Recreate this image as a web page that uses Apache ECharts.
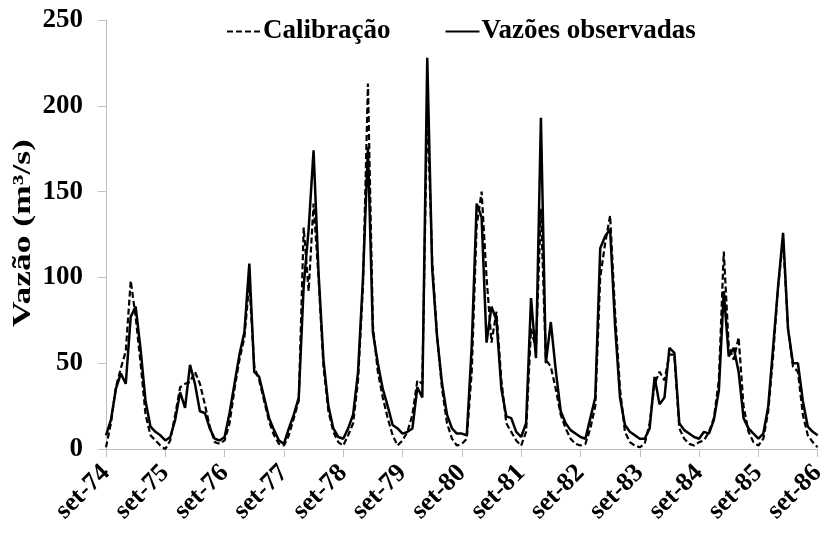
<!DOCTYPE html>
<html>
<head>
<meta charset="utf-8">
<script src="https://cdn.jsdelivr.net/npm/echarts@6/dist/echarts.min.js"></script>
<style>
html,body{margin:0;padding:0;background:#fff;}
#chart{width:829px;height:533px;}
</style>
</head>
<body>
<div id="chart"></div>
<script>
var monthNames = ['set','out','nov','dez','jan','fev','mar','abr','mai','jun','jul','ago'];
var startYear = 74;
var nYears = 12;
var yTicks = [0, 50, 100, 150, 200, 250];
var yAxisTitle = 'Vazão (m³/s)';

var observadas = [
  8,17,35,44,38,77,83,58,28,13,10,8,
  5,7,17,33,24,49,38,22,21,12,6,5,
  7,21,38,55,68,108,45,42,30,18,11,5,
  3,12,20,30,95,128,174,103,52,25,12,7,
  6,12,20,45,100,176,68,50,35,25,14,12,
  9,10,12,36,30,228,105,65,38,20,12,9,
  9,8,60,143,135,62,83,75,35,19,18,10,
  7,15,88,53,193,50,74,46,22,15,11,9,
  7,6,18,30,117,124,128,72,30,14,10,8,
  6,6,12,42,26,30,59,56,15,11,9,7,
  6,10,9,17,34,92,54,59,45,18,12,9,
  6,9,25,60,95,126,70,50,50,28,13,10,
  8
];
var calibracao = [
  1,15,36,47,57,98,77,50,20,8,5,2,
  0,5,20,36,38,39,45,38,26,13,4,3,
  5,15,35,52,65,97,48,40,28,16,8,3,
  2,8,18,28,129,92,143,100,48,22,10,4,
  2,8,15,40,95,213,72,45,30,18,8,2,
  5,10,20,40,38,200,110,65,35,15,6,2,
  3,6,45,130,150,100,62,80,40,15,10,5,
  2,10,70,58,140,52,48,35,20,12,6,3,
  2,3,12,25,100,120,136,80,35,10,4,2,
  1,3,15,38,45,40,55,55,12,6,3,2,
  4,5,10,18,40,115,60,52,65,25,10,4,
  2,6,22,55,95,122,70,48,45,20,8,4,
  1
];

var categories = [];
for (var y = 0; y <= nYears; y++) {
  for (var m = 0; m < 12; m++) {
    if (y === nYears && m > 0) break;
    categories.push(monthNames[m] + '-' + (startYear + y));
  }
}

var font = '"Liberation Serif","Times New Roman",serif';
var chart = echarts.init(document.getElementById('chart'), null, {renderer:'canvas'});
chart.setOption({
  animation: false,
  backgroundColor: '#ffffff',
  textStyle: {fontFamily: font},
  legend: {
    top: 13,
    left: 221,
    itemGap: 54,
    itemWidth: 34,
    itemHeight: 14,
    itemStyle: {opacity: 0, borderWidth: 0},
    textStyle: {fontFamily: font, fontWeight: 'bold', fontSize: 27, color: '#000', padding: [0, 0, 0, -3]},
    data: ['Calibração', 'Vazões observadas']
  },
  graphic: [{
    type: 'text',
    x: 24,
    y: 233,
    rotation: Math.PI / 2,
    scaleX: 1.42,
    scaleY: 1,
    style: {
      text: yAxisTitle,
      font: 'bold 25px ' + font,
      fill: '#000',
      align: 'center',
      verticalAlign: 'middle'
    }
  }],
  grid: {left: 106, right: 10, top: 20, bottom: 84, containLabel: false},
  xAxis: {
    type: 'category',
    data: categories,
    boundaryGap: false,
    axisLine: {lineStyle: {color: '#bfbfbf', width: 1}},
    axisTick: {show: true, interval: 11, length: 8, lineStyle: {color: '#bfbfbf'}},
    axisLabel: {
      interval: 11, rotate: 45, margin: 20,
      fontFamily: font, fontWeight: 'bold', fontSize: 26, color: '#000'
    },
    splitLine: {show: false}
  },
  yAxis: {
    type: 'value',
    min: yTicks[0], max: yTicks[yTicks.length - 1], interval: 50,
    axisLine: {show: true, lineStyle: {color: '#bfbfbf', width: 1}},
    axisTick: {show: true, length: 8, lineStyle: {color: '#bfbfbf'}},
    axisLabel: {margin: 23, fontFamily: font, fontWeight: 'bold', fontSize: 27, color: '#000'},
    splitLine: {show: false}
  },
  series: [
    {
      name: 'Calibração',
      type: 'line',
      data: calibracao,
      symbol: 'none',
      lineStyle: {color: '#000', width: 2.2, type: [6, 3]},
      itemStyle: {color: '#000'},
      z: 3
    },
    {
      name: 'Vazões observadas',
      type: 'line',
      data: observadas,
      symbol: 'none',
      lineStyle: {color: '#000', width: 2.5, type: 'solid'},
      itemStyle: {color: '#000'},
      z: 2
    }
  ]
});
</script>
</body>
</html>
